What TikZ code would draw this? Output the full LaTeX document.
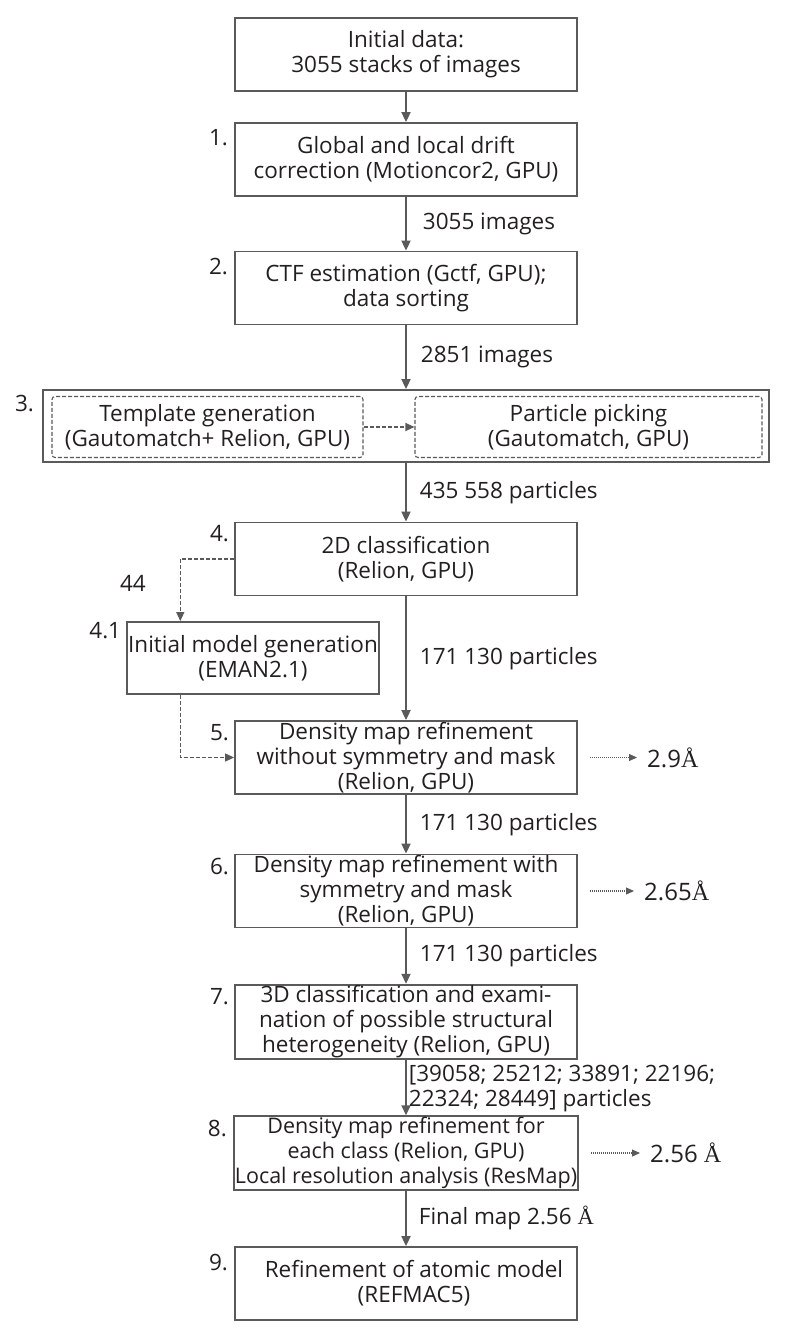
\documentclass[tikz,border=0pt]{standalone}
\usepackage{fontspec}
\setmainfont{Open Sans}
\newfontfamily\angfont{Liberation Serif}
\newcommand{\AngS}{{\angfont Å}}
\usetikzlibrary{arrows.meta,positioning}

\definecolor{linegray}{HTML}{5A5A5A}
\definecolor{inkgray}{HTML}{231F20}

\tikzset{
  txt/.style={font=\fontsize{22.5}{25}\selectfont, text=inkgray},
  stepbox/.style={txt, draw=linegray, line width=1.8pt, minimum width=342pt, minimum height=73pt, align=center, inner sep=1pt},
  subbox/.style={txt, draw=linegray, line width=1.1pt, dash pattern=on 4pt off 2pt, rounded corners=3pt, minimum height=61pt, align=center, inner sep=1pt},
  numlbl/.style={txt, anchor=north east, inner sep=0pt},
  flowlbl/.style={txt, anchor=west, align=left, inner sep=0pt},
  reslbl/.style={txt, font=\fontsize{24}{26}\selectfont, anchor=west, inner sep=0pt},
  flow/.style={draw=linegray, line width=1.8pt, -{Triangle[length=10pt,width=9pt]}},
  dflow/.style={draw=linegray, line width=1.1pt, dash pattern=on 4pt off 2pt, -{Triangle[length=9pt,width=8pt]}},
  dotflow/.style={draw=linegray, line width=1.1pt, dash pattern=on 1pt off 1pt, -{Triangle[length=8pt,width=7pt]}},
}

\begin{document}
\begin{tikzpicture}[x=1pt,y=-1pt]
\useasboundingbox (0,0) rectangle (790,1338);

% main steps
\node[stepbox] (b0) at (406,54.5) {Initial data:\\3055 stacks of images};
\node[stepbox] (b1) at (406,159.5) {Global and local drift\\correction (Motioncor2, GPU)};
\node[stepbox] (b2) at (406,288) {CTF estimation (Gctf, GPU);\\data sorting};
\node[stepbox, minimum width=726pt, minimum height=72pt] (b3) at (406,426) {};
\node[subbox, minimum width=311pt] (b3a) at (207.5,427) {Template generation\\(Gautomatch+ Relion, GPU)};
\node[subbox, minimum width=347pt] (b3b) at (588.5,427) {Particle picking\\(Gautomatch, GPU)};
\node[stepbox] (b4) at (406,559) {2D classification\\(Relion, GPU)};
\node[stepbox, minimum width=250pt, minimum height=72pt] (b41) at (253,658) {Initial model generation\\(EMAN2.1)};
\node[stepbox] (b5) at (406,757.5) {Density map refinement\\without symmetry and mask\\(Relion, GPU)};
\node[stepbox] (b6) at (406,891) {Density map refinement with\\symmetry and mask\\(Relion, GPU)};
\node[stepbox] (b7) at (406,1022) {3D classification and exami-\\nation of possible structural\\heterogeneity (Relion, GPU)};
\node[stepbox, font=\fontsize{21.5}{25}\selectfont] (b8) at (406,1153) {Density map refinement for\\each class (Relion, GPU)\\Local resolution analysis (ResMap)};
\node[stepbox] (b9) at (406,1283.5) {\hspace*{16pt}Refinement of atomic model\\\hspace*{16pt}(REFMAC5)};

% step numbers
\node[numlbl] (s1) at ([xshift=-6pt,yshift=-7pt]b1.north west) {1.};
\node[numlbl] (s2) at ([xshift=-6pt,yshift=-7pt]b2.north west) {2.};
\node[numlbl] (s3) at ([xshift=-8pt,yshift=-6pt]b3.north west) {3.};
\node[numlbl] (s4) at ([xshift=-5pt,yshift=-4pt]b4.north west) {4.};
\node[numlbl] (s41) at ([xshift=-5pt,yshift=-1pt]b41.north west) {4.1};
\node[numlbl] (s5) at ([xshift=-5pt,yshift=-4pt]b5.north west) {5.};
\node[numlbl] (s6) at ([xshift=-5pt,yshift=-4pt]b6.north west) {6.};
\node[numlbl] (s7) at ([xshift=-5pt,yshift=-4pt]b7.north west) {7.};
\node[numlbl] (s8) at ([xshift=-6pt,yshift=-5pt]b8.north west) {8.};
\node[numlbl] (s9) at ([xshift=-6pt,yshift=-8pt]b9.north west) {9.};

% resolutions
\node[reslbl] (r5) at (647,757.5) {2.9\AngS};
\node[reslbl] (r6) at (644,891) {2.65\AngS};
\node[reslbl] (r8) at (650,1153) {2.56 \AngS};

% connectors
\draw[flow] (b0) -- (b1);
\draw[flow] (b1) -- node[flowlbl, xshift=16pt] (n1) {3055 images} (b2);
\draw[flow] (b2) -- node[flowlbl, xshift=14pt] (n2) {2851 images} (b3);
\draw[dflow] (b3a) -- (b3b);
\draw[flow] (b3) -- node[flowlbl, xshift=13pt] (n3) {435 558 particles} (b4);
\draw[flow] (b4) -- node[flowlbl, xshift=13pt] (n4) {171 130 particles} (b5);
\draw[flow] (b5) -- node[flowlbl, xshift=13pt] (n5) {171 130 particles} (b6);
\draw[flow] (b6) -- node[flowlbl, xshift=13pt] (n6) {171 130 particles} (b7);
\draw[flow] (b7) -- node[flowlbl, xshift=2pt, yshift=-1pt] (n7) {[39058; 25212; 33891; 22196;\\22324; 28449] particles} (b8);
\draw[flow] (b8) -- node[flowlbl, xshift=12pt] (n8) {Final map 2.56 \AngS} (b9);

\draw[dflow] (b4.west) -| node[txt, pos=0.7, left=34pt, inner sep=0pt] (n44) {44} ([xshift=54pt]b41.north west);
\draw[dflow] ([xshift=54pt]b41.south west) |- (b5.west);

\draw[dotflow] ([xshift=12pt]b5.east) -- ([xshift=-10pt]r5.west);
\draw[dotflow] ([xshift=12pt]b6.east) -- ([xshift=-10pt]r6.west);
\draw[dotflow] ([xshift=12pt]b8.east) -- ([xshift=-10pt]r8.west);

\end{tikzpicture}
\end{document}
